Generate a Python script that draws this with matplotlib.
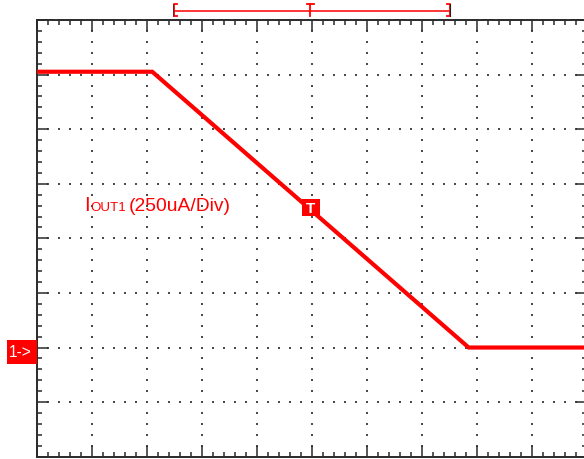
import numpy as np
import matplotlib
matplotlib.use('Agg')
import matplotlib.pyplot as plt
from matplotlib.patches import Rectangle

plt.rcParams['font.family'] = ['Liberation Sans', 'DejaVu Sans']

# scope capture: channel 1 output current, 250uA/div, 10 time divisions
time_div = [0.0, 2.1, 7.85, 10.0]
iout_ma = [1.263, 1.263, 0.0, 0.0]
trace_label = '(250uA/Div)'
volts_per_div = 0.25   # mA per division
n_xdiv = 10
n_ydiv = 8
y_bottom = -0.5        # channel 1 ground sits 2 divisions above the bottom

RED = '#ff0000'
FRAME = '#2a2a2a'
W, H = 584, 460

fig = plt.figure(figsize=(W / 100, H / 100), dpi=100)

# graticule position in pixels (right edge runs off the picture)
left_px, top_px = 36.7, 21.0
right_px, bottom_px = 587.0, 457.7
ax = fig.add_axes([left_px / W, 1 - bottom_px / H,
                   (right_px - left_px) / W, (bottom_px - top_px) / H])
ax.set_zorder(1)

y_top = y_bottom + n_ydiv * volts_per_div
ax.set_xlim(0, n_xdiv)
ax.set_ylim(y_bottom, y_top)

# dotted graticule: a dot every 1/5 division along each major line
gx, gy = [], []
for k in range(1, n_xdiv):
    for yv in np.arange(y_bottom, y_top, volts_per_div / 5)[1:]:
        gx.append(k)
        gy.append(yv)
for j in range(1, n_ydiv):
    for xv in np.arange(0, n_xdiv, 0.2)[1:]:
        gx.append(xv)
        gy.append(y_bottom + j * volts_per_div)
ax.scatter(gx, gy, s=2.6, marker='s', c='#4a4a4a', linewidths=0, zorder=1)

# the trace
ax.plot(time_div, iout_ma, color=RED, lw=3.0, solid_joinstyle='miter', zorder=3)

# frame and inward ticks on every side
ax.set_xticks(np.arange(0, n_xdiv + 1, 1))
ax.set_xticks(np.arange(0, n_xdiv + 0.01, 0.2), minor=True)
ax.set_yticks(np.arange(y_bottom, y_top + 0.001, volts_per_div))
ax.set_yticks(np.arange(y_bottom, y_top + 0.001, volts_per_div / 5), minor=True)
ax.tick_params(which='both', direction='in', top=True, right=True, bottom=True, left=True,
               labelbottom=False, labelleft=False, colors=FRAME, width=1.1)
ax.tick_params(which='major', length=8)
ax.tick_params(which='minor', length=3.3)
for s in ax.spines.values():
    s.set_color(FRAME)
    s.set_linewidth(1.4)

# overlay in pixel coordinates for the scope markers
ov = fig.add_axes([0, 0, 1, 1])
ov.set_zorder(2)
ov.set_xlim(0, W)
ov.set_ylim(H, 0)
ov.axis('off')
ov.patch.set_alpha(0)

# channel 1 ground marker
ov.add_patch(Rectangle((7, 340.5), 29.5, 24.5, color=RED, lw=0))
ov.text(9, 357, '1->', color='white', fontsize=11.2, va='baseline', ha='left')

# trigger marker on the trace
ov.add_patch(Rectangle((302, 200), 17.5, 17, color=RED, lw=0))
ov.text(310.8, 213.5, 'T', color='white', fontsize=11, fontweight='bold',
        va='baseline', ha='center')

# trigger window bar at the top
ov.plot([174, 449.5], [11.7, 11.7], color=RED, lw=1.1)
ov.plot([176.5, 174, 174, 176.5], [5.2, 5.2, 17.2, 17.2], color=RED, lw=1.3)
ov.plot([447, 449.5, 449.5, 447], [5.2, 5.2, 17.2, 17.2], color=RED, lw=1.3)
ov.plot([450.4, 450.4], [5.2, 17.2], color='#222222', lw=0.8)
ov.plot([172.8, 172.8], [5.2, 17.2], color='#552222', lw=0.6)
ov.plot([306.5, 313.5], [5.2, 5.2], color=RED, lw=1.3)
ov.plot([310, 310], [5.2, 16.8], color=RED, lw=1.3)

# channel label
ov.text(84.5, 211, 'I', color=RED, fontsize=14.5, va='baseline', ha='left')
ov.text(90.4, 211, 'OUT1', color=RED, fontsize=9.6, va='baseline', ha='left')
ov.text(128.5, 211, trace_label, color=RED, fontsize=13.9, va='baseline', ha='left')

fig.savefig('out.png', dpi=100)
